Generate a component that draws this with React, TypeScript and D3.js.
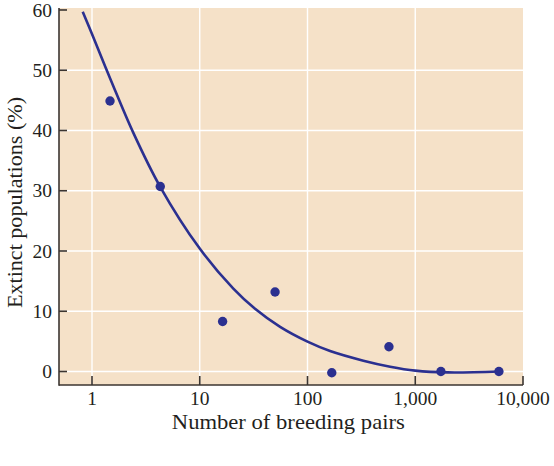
import React from 'react';
import * as d3 from 'd3';

// observed populations
const pairs = [1.47, 4.3, 16.3, 50, 168, 570, 1730, 5975];
const extinctPct = [44.9, 30.7, 8.3, 13.2, -0.2, 4.1, 0, 0];

// fitted curve
const fitPairs = [0.82, 1, 1.5, 2.42, 4.28, 10, 20.5, 32.6, 55.7, 100, 162, 330, 585, 1000, 2000, 6000];
const fitPct = [59.7, 56.0, 48.3, 39.6, 30.7, 20.4, 13.75, 10.4, 7.4, 4.95, 3.4, 1.8, 0.8, 0.15, -0.15, 0.0];

const xTicks = [1, 10, 100, 1000, 10000];
const xTickLabels = ['1', '10', '100', '1,000', '10,000'];
const yTicks = [0, 10, 20, 30, 40, 50, 60];

const W = 554;
const H = 466;
const margin = { top: 8, right: 31, bottom: 81, left: 59 };
const FONT = '"Liberation Serif", "Times New Roman", serif';

const App: React.FC = () => {
  const x = d3
    .scaleLog()
    .domain([0.494, 10000])
    .range([margin.left, W - margin.right]);
  const y = d3
    .scaleLinear()
    .domain([-2.24, 60.33])
    .range([H - margin.bottom, margin.top]);

  const line = d3
    .line<number>()
    .x((_, i) => x(fitPairs[i]))
    .y(d => y(d))
    .curve(d3.curveCatmullRom.alpha(0.5));

  const left = margin.left;
  const right = W - margin.right;
  const top = margin.top;
  const bottom = H - margin.bottom;
  const axisColor = '#3b3531';
  const navy = '#2b3090';

  return (
    <svg width={W} height={H} style={{ position: 'absolute', left: 0, top: 0 }}>
      <rect x={0} y={0} width={W} height={H} fill="#fff" />
      <rect x={left} y={top} width={right - left} height={bottom - top} fill="#f5e1c8" />

      {/* grid */}
      {yTicks.filter(t => t < 60).map(t => (
        <line key={'gy' + t} x1={left} x2={right} y1={y(t)} y2={y(t)} stroke="#fff" strokeWidth={1.4} />
      ))}
      {xTicks.filter(t => t < 10000).map(t => (
        <line key={'gx' + t} x1={x(t)} x2={x(t)} y1={top} y2={bottom} stroke="#fff" strokeWidth={1.4} />
      ))}

      {/* axes */}
      <line x1={left} x2={left} y1={top} y2={bottom + 0.8} stroke={axisColor} strokeWidth={1.6} />
      <line x1={left} x2={right} y1={bottom} y2={bottom} stroke={axisColor} strokeWidth={1.6} />
      {yTicks.map(t => (
        <g key={'ty' + t}>
          <line x1={left} x2={left + 8} y1={y(t)} y2={y(t)} stroke={axisColor} strokeWidth={1.6} />
          <text x={52} y={y(t)} dy="0.34em" textAnchor="end" fontFamily={FONT} fontSize={19.5} fill="#231f20">
            {t}
          </text>
        </g>
      ))}
      {xTicks.map((t, i) => (
        <g key={'tx' + t}>
          <line x1={x(t)} x2={x(t)} y1={bottom} y2={bottom - 9} stroke={axisColor} strokeWidth={1.6} />
          <text x={x(t)} y={404.5} textAnchor="middle" fontFamily={FONT} fontSize={19.5} fill="#231f20">
            {xTickLabels[i]}
          </text>
        </g>
      ))}

      {/* axis titles */}
      <text
        x={288.3}
        y={428.5}
        textAnchor="middle"
        fontFamily={FONT}
        fontSize={21}
        fill="#231f20"
        textLength={233}
        lengthAdjust="spacingAndGlyphs"
      >
        Number of breeding pairs
      </text>
      <text
        transform="translate(22, 202.5) rotate(-90)"
        textAnchor="middle"
        fontFamily={FONT}
        fontSize={21}
        fill="#231f20"
        textLength={211}
        lengthAdjust="spacingAndGlyphs"
      >
        Extinct populations (%)
      </text>

      {/* fit */}
      <path d={line(fitPct) ?? ''} fill="none" stroke={navy} strokeWidth={2.6} />

      {/* points */}
      {pairs.map((p, i) => (
        <circle key={'p' + i} cx={x(p)} cy={y(extinctPct[i])} r={4.7} fill={navy} />
      ))}
    </svg>
  );
};

export default App;
